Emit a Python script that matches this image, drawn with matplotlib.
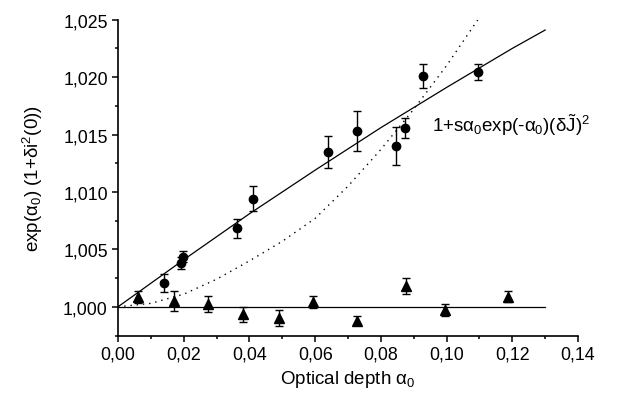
import matplotlib
matplotlib.use('Agg')
import matplotlib.pyplot as plt

plt.rcParams['font.family'] = ['Liberation Sans', 'DejaVu Sans']
plt.rcParams['mathtext.fontset'] = 'custom'
plt.rcParams['mathtext.rm'] = 'Liberation Sans'
plt.rcParams['mathtext.it'] = 'Liberation Sans'
plt.rcParams['mathtext.bf'] = 'Liberation Sans:bold'

# --- data ---
# circles: measured points
circ_x = [0.0141, 0.0192, 0.0199, 0.0361, 0.0410, 0.0638, 0.0726, 0.0845, 0.0874, 0.0928, 0.1096]
circ_y = [1.00206, 1.00381, 1.00436, 1.00683, 1.00942, 1.01350, 1.01533, 1.01402, 1.01559, 1.02012, 1.02047]
circ_err = [0.0008, 0.0005, 0.0005, 0.00084, 0.00107, 0.00141, 0.00173, 0.00164, 0.00087, 0.00105, 0.00068]

# triangles: reference points
tri_x = [0.0062, 0.0170, 0.0273, 0.0380, 0.0490, 0.0592, 0.0728, 0.0876, 0.0996, 0.1188]
tri_y = [1.00086, 1.00052, 1.00025, 0.99936, 0.99903, 1.00038, 0.99878, 1.00182, 0.99970, 1.00087]
tri_err = [0.00054, 0.00087, 0.00068, 0.00064, 0.00068, 0.00052, 0.00038, 0.00071, 0.00054, 0.00047]

# solid fit curve
fit_x = [0.0, 0.02, 0.04, 0.06, 0.08, 0.10, 0.12, 0.13]
fit_y = [1.0, 1.0041, 1.0081, 1.0119, 1.0156, 1.0191, 1.0225, 1.0241]

# dotted curve
dot_x = [0.0, 0.01, 0.02, 0.03, 0.04, 0.05, 0.06, 0.07, 0.08, 0.09, 0.10, 0.11]
dot_y = [1.0, 1.0003, 1.0011, 1.0024, 1.0040, 1.0057, 1.0077, 1.0105, 1.0137, 1.0172, 1.0210, 1.0252]

# baseline
base_x = [0.0, 0.13]
base_y = [1.0, 1.0]

xticks = [0.00, 0.02, 0.04, 0.06, 0.08, 0.10, 0.12, 0.14]
xtick_labels = ['0,00', '0,02', '0,04', '0,06', '0,08', '0,10', '0,12', '0,14']
yticks = [1.000, 1.005, 1.010, 1.015, 1.020, 1.025]
ytick_labels = ['1,000', '1,005', '1,010', '1,015', '1,020', '1,025']

fig = plt.figure(figsize=(6.41, 4.02), dpi=100)
ax = fig.add_axes([0.1841, 0.1629, 0.7176, 0.7856])

ax.plot(fit_x, fit_y, color='black', lw=0.9)
ax.plot(dot_x, dot_y, color='black', lw=1.0, linestyle=(0, (1, 3.5)))
ax.plot(base_x, base_y, color='black', lw=0.9)

ax.errorbar(circ_x, circ_y, yerr=circ_err, fmt='o', color='black', ms=6,
            elinewidth=1, capsize=3.2, capthick=1)
ax.errorbar(tri_x, tri_y, yerr=tri_err, fmt='^', color='black', ms=6.8,
            elinewidth=1, capsize=3.2, capthick=1)

ax.text(0.0955, 1.0159, r'1+s$\alpha_0$exp(-$\alpha_0$)($\delta\tilde{J}$)$^2$',
        fontsize=13.5, va='center', ha='left')

ax.set_xlim(0, 0.14)
ax.set_ylim(0.9975, 1.025)
ax.set_xticks(xticks)
ax.set_xticklabels(xtick_labels)
ax.set_yticks(yticks)
ax.set_yticklabels(ytick_labels)
ax.set_xticks([0.01, 0.03, 0.05, 0.07, 0.09, 0.11, 0.13], minor=True)
ax.set_yticks([0.9975, 1.0025, 1.0075, 1.0125, 1.0175, 1.0225], minor=True)

for s in ['top', 'right']:
    ax.spines[s].set_visible(False)
for s in ['left', 'bottom']:
    ax.spines[s].set_linewidth(1.2)

ax.tick_params(which='major', direction='out', length=4.3, width=1.1, labelsize=12.8, pad=3)
ax.tick_params(which='minor', direction='out', length=2.2, width=1.1)

ax.set_xlabel(r'Optical depth $\alpha_0$', fontsize=13.5, labelpad=4)
ax.set_ylabel(r'exp($\alpha_0$) (1+$\delta$i$^2$(0))', fontsize=13.5, labelpad=13)

fig.savefig('out.png', dpi=100)
